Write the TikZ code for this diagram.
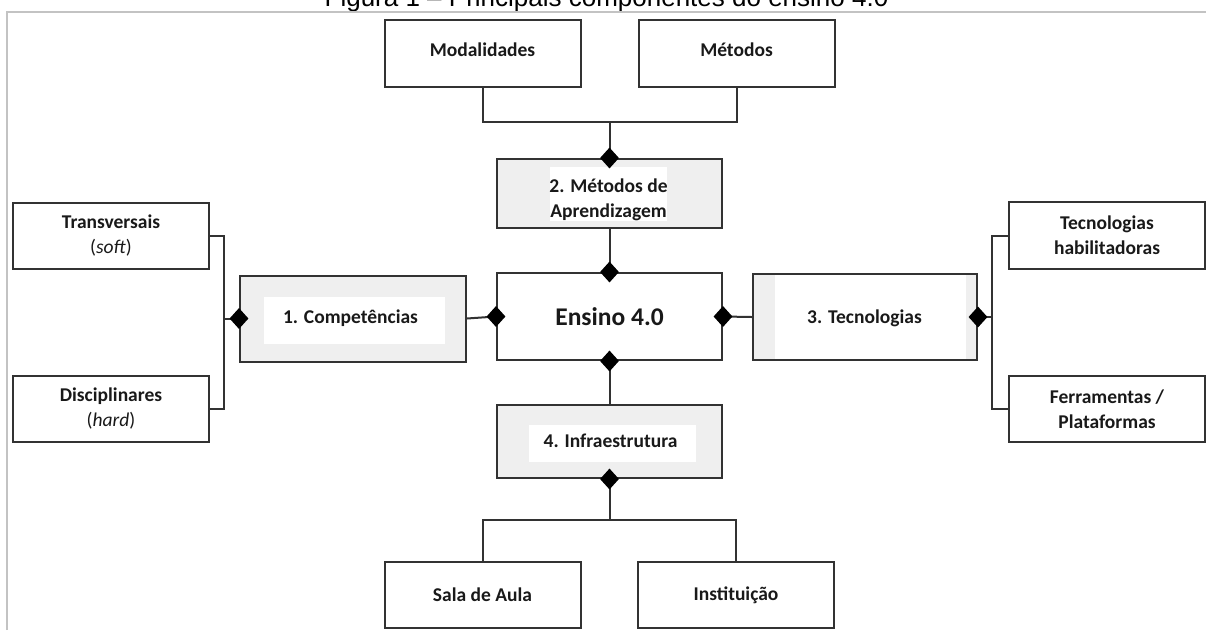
\documentclass[tikz,border=0pt]{standalone}
\usepackage{fontspec}
\setmainfont{Carlito}
\newfontfamily\titlefont{Liberation Sans}
\usetikzlibrary{shapes.geometric}
\definecolor{linecol}{RGB}{50,50,50}
\definecolor{textcol}{RGB}{25,25,25}
\definecolor{boxgray}{RGB}{239,239,239}
\definecolor{framecol}{RGB}{195,195,195}
\begin{document}
\begin{tikzpicture}[x=1pt,y=-1pt,
  titlest/.style={inner sep=0pt, font=\titlefont\fontsize{26}{30}\selectfont, text=black},
  plainbox/.style={draw=linecol, line width=2pt, fill=white, inner sep=0pt,
    minimum width=196pt, minimum height=67pt, align=center, text=textcol,
    font=\fontsize{19.5}{25}\selectfont\bfseries},
  numbox/.style={draw=linecol, line width=2pt, fill=boxgray, inner sep=0pt,
    minimum width=225pt},
  whitearea/.style={fill=white, draw=none, inner sep=0pt},
  lbl/.style={inner sep=0pt, align=center, text=textcol,
    font=\fontsize{19.5}{25}\selectfont\bfseries},
  conn/.style={draw=linecol, line width=2pt},
  dia/.style={diamond, fill=black, draw=none, inner sep=0pt,
    minimum width=19pt, minimum height=21pt}
]
\useasboundingbox (0,0) rectangle (1206,630);
\fill[white] (0,0) rectangle (1206,630);

% title (top part cut by the page edge) and frame
\node[titlest, anchor=base] (title) at (606.5,6) {Figura 1 – Principais componentes do ensino 4.0};
\draw[framecol, line width=1.5pt] (7,630) -- (7,12) -- (1206,12);

% top boxes
\node[plainbox] (mod) at (482.5,53.5) {};
\node[lbl] (modt) at (482.5,50) {Modalidades};
\node[plainbox] (met) at (736.5,53.5) {};
\node[lbl] (mett) at (736.5,50) {Métodos};

% 2. Métodos de Aprendizagem
\node[numbox, minimum height=69pt] (mda) at (609.5,193.5) {};
\node[whitearea, minimum width=117pt, minimum height=54pt] (mdaw) at (608.5,194) {};
\node[lbl] (mdat) at (608.5,200) {2. Métodos de\\Aprendizagem};

% Ensino 4.0
\node[plainbox, minimum width=225pt, minimum height=87pt,
  font=\fontsize{25.5}{30}\selectfont\bfseries] (ens) at (609.5,316.5) {Ensino 4.0};

% 1. Competências
\node[numbox, minimum width=226pt, minimum height=86pt] (comp) at (353,318.5) {};
\node[whitearea, minimum width=181pt, minimum height=47pt] (compw) at (354.5,320.5) {};
\node[lbl] (compt) at (350.5,318) {1. Competências};

% 3. Tecnologias
\node[numbox, minimum width=224pt, minimum height=86pt] (tec) at (865,317) {};
\node[whitearea, minimum width=191pt, minimum height=84pt] (tecw) at (870.5,317) {};
\node[lbl] (tect) at (864.5,318) {3. Tecnologias};

% 4. Infraestrutura
\node[numbox, minimum height=73pt] (inf) at (609.5,441.5) {};
\node[whitearea, minimum width=167pt, minimum height=37pt] (infw) at (612.5,443.5) {};
\node[lbl] (inft) at (610.5,441) {4. Infraestrutura};

% bottom boxes
\node[plainbox, minimum height=66pt] (sala) at (482.5,595) {Sala de Aula};
\node[plainbox, minimum height=66pt] (inst) at (736,595) {Instituição};

% left boxes
\node[plainbox, minimum height=66pt] (trans) at (111,236) {Transversais\\{\mdseries(\textit{soft})}};
\node[plainbox, minimum height=66pt] (disc) at (111,409) {Disciplinares\\{\mdseries(\textit{hard})}};

% right boxes
\node[plainbox] (th) at (1107,235.5) {Tecnologias\\habilitadoras};
\node[plainbox, minimum height=66pt] (ferr) at (1107,409) {Ferramentas /\\Plataformas};

% connectors
\coordinate (jt) at (609.5,122);
\draw[conn] (mod.south) |- (jt) -| (met.south);
\draw[conn] (jt) -- (mda.north);
\draw[conn] (mda.south) -- (ens.north);
\draw[conn] (ens.south) -- (inf.north);
\coordinate (jb) at (609.5,520);
\draw[conn] (inf.south) -- (jb);
\draw[conn] (sala.north) |- (jb) -| (inst.north);
\coordinate (jl) at (224,318.5);
\draw[conn] (trans.east) -| (jl) |- (disc.east);
\draw[conn] (comp.west) -- (jl);
\draw[conn] (comp.east) -- (ens.west);
\draw[conn] (ens.east) -- (tec.west);
\coordinate (jr) at (992,317);
\draw[conn] (th.west) -| (jr) |- (ferr.west);
\draw[conn] (tec.east) -- (jr);

% diamonds
\node[dia] (d1) at (mda.north) {};
\node[dia] (d2) at (ens.north) {};
\node[dia] (d3) at (ens.south) {};
\node[dia] (d4) at (ens.west) {};
\node[dia] (d5) at (ens.east) {};
\node[dia] (d6) at (comp.west) {};
\node[dia] (d7) at (tec.east) {};
\node[dia] (d8) at (inf.south) {};
\end{tikzpicture}
\end{document}
